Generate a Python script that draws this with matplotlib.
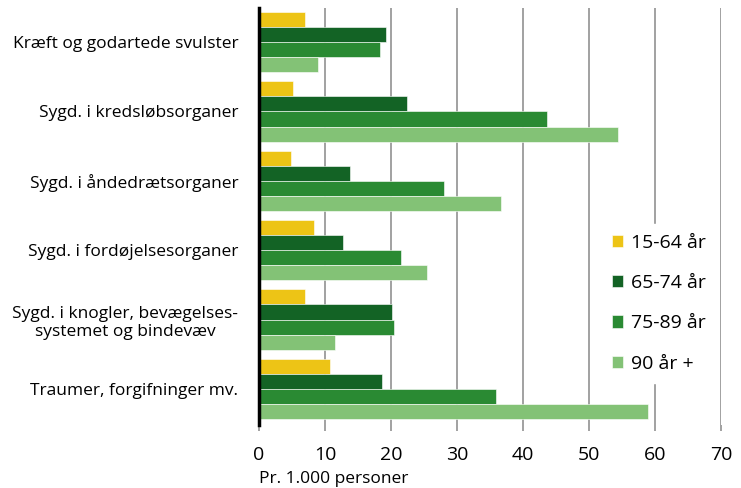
import numpy as np
import matplotlib.pyplot as plt

categories = ["Kræft og godartede svulster",
              "Sygd. i kredsløbsorganer",
              "Sygd. i åndedrætsorganer",
              "Sygd. i fordøjelsesorganer",
              "Sygd. i knogler, bevægelses-\nsystemet og bindevæv",
              "Traumer, forgifninger mv."]
series = ["15-64 år", "65-74 år", "75-89 år", "90 år +"]
v_15_64 = [7.0, 5.1, 4.8, 8.3, 7.0, 10.7]
v_65_74 = [19.3, 22.4, 13.8, 12.8, 20.2, 18.7]
v_75_89 = [18.4, 43.6, 28.1, 21.5, 20.5, 35.9]
v_90 = [9.0, 54.4, 36.7, 25.5, 11.5, 58.9]
colors = ["#EDC416", "#136325", "#2A8A33", "#83C276"]

plt.rcParams['font.family'] = ['Open Sans', 'DejaVu Sans']

fig = plt.figure(figsize=(7.41, 4.88), dpi=100)
ax = fig.add_axes([259/741, 1-425/488, (721-259)/741, (425-8)/488])

y = np.arange(len(categories))
h = 0.218
for i, (vals, lab) in enumerate(zip([v_15_64, v_65_74, v_75_89, v_90], series)):
    ax.barh(y + (i - 1.5) * h, vals, height=h, color=colors[i], label=lab,
            edgecolor="white", linewidth=0.4, zorder=3)

ax.set_xlim(0, 70)
ax.set_ylim(len(categories) - 0.5 + 0.02, -0.5 + 0.01)
ax.set_xticks(range(0, 71, 10))
ax.grid(axis="x", color="#9a9a9a", linewidth=1.3, zorder=0)
ax.set_yticks(y)
ax.set_yticklabels(categories, multialignment="center", fontsize=12.5)
ax.tick_params(axis="y", length=0, pad=15)
ax.tick_params(axis="x", length=4, color="#9a9a9a", width=1.3, labelsize=14, pad=11)
for s in ["top", "right", "bottom"]:
    ax.spines[s].set_visible(False)
ax.spines["left"].set_linewidth(2.5)
ax.spines["left"].set_color("black")
ax.spines["left"].set_zorder(4)

ax.set_xlabel("Pr. 1.000 personer", fontsize=12.5, loc="left", labelpad=5)

leg = ax.legend(loc="upper left", bbox_to_anchor=(602/741, 1-224/488),
                bbox_transform=fig.transFigure, frameon=True, fontsize=14,
                handlelength=0.6, handleheight=0.6, labelspacing=1.15,
                handletextpad=0.4, borderpad=0.5, borderaxespad=0)
leg.get_frame().set_facecolor("white")
leg.get_frame().set_edgecolor("white")
leg.get_frame().set_alpha(1)
leg.get_frame().set_boxstyle("square", pad=0)

fig.savefig("out.png", dpi=100)
